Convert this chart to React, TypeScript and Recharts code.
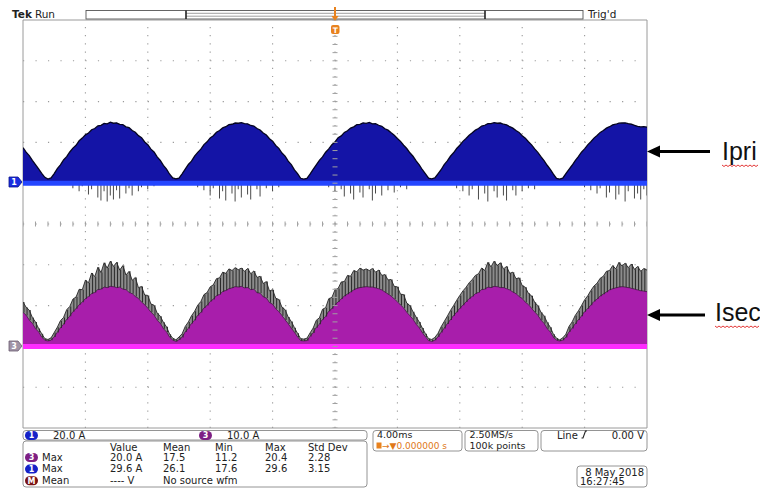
import React from "react";
import {
  ComposedChart,
  Area,
  Bar,
  Scatter,
  XAxis,
  YAxis,
  ReferenceLine,
  ReferenceArea,
} from "recharts";

// sampling of the screen capture: 201 points, 0.2 ms apart, -20 ms .. +20 ms
const T0 = -20;
const STEP_MS = 0.2;

// channel 1 (Ipri) 20 A/div, ground marker 1 div above centre
const CH1_POS = 1;
const CH1_SCALE = 20;
// channel 3 (Isec) 10 A/div, ground marker 3 div below centre
const CH3_POS = -3;
const CH3_SCALE = 10;

// envelope of channel 1, amps
const ch1Amps = [
  17.4, 15.2, 13.5, 11.2, 9.1, 7.0, 4.8, 2.9,
  2.0, 2.6, 4.7, 7.1, 9.0, 11.4, 13.0, 15.3, 17.2, 18.6, 20.8, 22.1, 23.7, 24.6, 26.2, 26.8, 28.1, 28.4, 29.3, 29.1, 29.9,
  29.4, 29.6, 28.8, 28.7, 27.6, 27.2, 25.8, 25.0, 23.3, 22.3, 20.2, 18.9, 16.7, 15.3, 12.9, 11.2, 8.7, 6.9, 4.4, 2.6,
  2.1, 2.5, 4.6, 6.9, 9.2, 10.8, 13.3, 15.1, 16.7, 18.9, 20.3, 22.2, 23.3, 25.0, 25.8, 27.1, 27.7, 28.7, 28.9, 29.5, 29.4,
  29.7, 29.2, 29.1, 28.3, 28.0, 26.8, 26.1, 24.6, 23.6, 21.8, 20.6, 18.5, 17.1, 14.8, 13.3, 10.8, 9.1, 6.5, 4.7, 2.4,
  2.0, 2.4, 4.4, 6.8, 9.0, 11.2, 12.9, 15.2, 16.8, 18.9, 20.2, 22.3, 23.2, 24.9, 25.7, 27.0, 27.6, 28.7, 28.8, 29.6, 29.3,
  29.8, 29.1, 29.2, 28.4, 27.9, 26.7, 26.0, 24.7, 23.5, 21.9, 20.5, 18.6, 17.0, 14.9, 13.2, 10.9, 9.0, 6.6, 4.6, 2.5,
  2.1, 2.6, 4.6, 6.6, 9.1, 10.9, 13.2, 14.9, 17.0, 18.6, 20.5, 21.9, 23.5, 24.7, 26.0, 26.8, 28.0, 28.4, 29.2, 29.2, 29.7,
  29.4, 29.5, 28.9, 28.6, 27.7, 27.0, 25.8, 24.9, 23.3, 22.1, 20.3, 18.8, 16.8, 15.1, 13.0, 11.1, 8.8, 6.8, 4.4, 2.4,
  2.0, 2.5, 4.7, 6.8, 8.8, 11.1, 13.0, 15.2, 16.8, 18.8, 20.3, 22.1, 23.4, 24.9, 25.8, 27.0, 27.7, 28.6, 28.9, 29.4, 29.5,
  29.6, 29.2, 28.9, 28.4, 27.9, 27.6, 27.7, 27.5,
];

// negative glitches below the channel 1 ground: [sample, amps]
const ch1Spikes: [number, number][] = [
  [16, -2.5], [18, -4], [19, -1.5], [21, -5.5], [22, -3], [24, -7], [25, -8.5], [26, -4], [27, -9], [28, -6],
  [29, -8], [30, -3.5], [31, -7.5], [33, -5], [34, -2.5], [35, -6], [37, -4], [38, -2], [40, -3], [42, -1.5],
  [56, -2], [58, -3.5], [60, -6], [61, -2.5], [63, -7.5], [64, -4], [65, -8.5], [67, -5], [68, -9], [69, -3],
  [70, -7], [72, -5.5], [73, -8], [75, -3], [76, -6.5], [78, -2.5], [80, -4], [82, -2],
  [98, -2], [100, -4], [102, -3], [103, -6.5], [105, -5], [106, -8], [108, -4.5], [109, -7], [111, -3], [112, -8.5],
  [113, -5], [115, -6], [117, -3.5], [119, -4.5], [121, -2], [123, -3],
  [139, -2.5], [141, -4], [143, -6], [144, -3], [146, -8], [148, -5], [149, -9], [151, -4], [152, -7], [154, -6],
  [155, -8.5], [157, -3.5], [158, -6], [160, -4], [162, -2.5], [164, -3],
  [180, -2], [182, -3.5], [184, -5], [185, -2.5], [187, -7], [188, -4.5], [190, -8], [191, -5.5], [193, -9], [194, -4],
  [196, -7.5], [197, -5], [198, -8], [199, -3], [200, -6],
];

// dense part of channel 3, amps
const ch3Amps = [
  8.3, 7.6, 6.4, 5.6, 4.3, 3.5, 2.2, 1.5,
  1.3, 1.5, 2.3, 3.4, 4.5, 5.4, 6.6, 7.4, 8.5, 9.2, 10.2, 10.8, 11.7, 12.2, 12.9, 13.2, 13.9, 14.0, 14.5, 14.4, 14.7,
  14.6, 14.4, 14.5, 14.0, 13.9, 13.2, 12.9, 12.2, 11.7, 10.8, 10.2, 9.3, 8.4, 7.6, 6.4, 5.6, 4.3, 3.5, 2.2, 1.5,
  1.2, 1.6, 2.2, 3.5, 4.4, 5.6, 6.4, 7.6, 8.3, 9.4, 10.0, 11.0, 11.5, 12.4, 12.7, 13.4, 13.7, 14.1, 14.3, 14.6, 14.5,
  14.7, 14.3, 14.4, 13.9, 14.0, 13.1, 13.0, 12.1, 11.8, 10.7, 10.3, 9.2, 8.5, 7.5, 6.5, 5.5, 4.4, 3.4, 2.3, 1.4,
  1.3, 1.4, 2.4, 3.3, 4.6, 5.4, 6.6, 7.3, 8.6, 9.2, 10.2, 10.9, 11.6, 12.3, 12.8, 13.3, 13.8, 14.2, 14.4, 14.5, 14.6,
  14.5, 14.5, 14.3, 14.1, 13.8, 13.3, 12.8, 12.3, 11.6, 10.9, 10.1, 9.4, 8.3, 7.5, 6.6, 5.4, 4.5, 3.3, 2.3, 1.4,
  1.2, 1.5, 2.3, 3.4, 4.4, 5.5, 6.5, 7.5, 8.4, 9.3, 10.1, 10.9, 11.7, 12.2, 12.9, 13.2, 13.9, 14.0, 14.5, 14.4, 14.7,
  14.6, 14.4, 14.4, 14.1, 13.8, 13.3, 12.9, 12.2, 11.7, 10.8, 10.2, 9.3, 8.4, 7.6, 6.4, 5.6, 4.3, 3.5, 2.2, 1.5,
  1.3, 1.5, 2.2, 3.5, 4.4, 5.5, 6.5, 7.4, 8.5, 9.2, 10.1, 11.0, 11.6, 12.3, 12.8, 13.3, 13.8, 14.1, 14.3, 14.5, 14.6,
  14.5, 14.4, 14.2, 14.0, 13.8, 13.6, 13.5, 13.4,
];

// top of the ringing above channel 3, amps
const ch3NoiseTop = [
  10.9, 9.6, 8.9, 7.1, 6.0, 4.4, 3.1, 1.9,
  1.7, 2.1, 3.4, 4.7, 6.3, 7.1, 9.0, 9.8, 11.6, 12.1, 14.0, 13.9, 16.2, 15.6, 18.0, 17.1, 19.4, 18.1, 20.5, 19.2, 20.9,
  19.6, 20.6, 18.7, 19.8, 17.5, 18.4, 16.2, 16.9, 14.4, 14.7, 12.6, 12.5, 10.4, 10.1, 8.2, 7.4, 5.9, 4.8, 3.0, 2.0,
  1.6, 2.3, 3.1, 4.9, 6.0, 7.5, 8.6, 10.1, 11.0, 12.7, 13.2, 14.6, 15.1, 16.6, 16.8, 18.2, 17.9, 19.0, 18.6, 19.3, 18.8,
  19.2, 18.4, 19.1, 17.8, 18.5, 16.9, 17.2, 15.4, 15.9, 13.6, 13.9, 11.8, 11.5, 9.6, 9.0, 7.2, 6.1, 4.6, 3.2, 1.9,
  1.8, 2.0, 3.3, 4.5, 6.4, 7.0, 9.1, 9.5, 11.7, 12.0, 13.9, 14.2, 15.8, 15.9, 17.4, 17.2, 18.6, 18.3, 19.2, 18.7, 19.0,
  18.6, 19.1, 18.2, 18.7, 17.4, 17.6, 16.3, 16.4, 14.7, 14.6, 12.8, 12.7, 10.6, 10.0, 8.5, 7.2, 6.0, 4.5, 3.1, 1.9,
  1.7, 2.2, 3.2, 4.8, 6.1, 7.4, 8.8, 10.0, 11.3, 12.5, 13.6, 14.5, 15.6, 16.4, 17.4, 17.8, 19.2, 18.6, 20.6, 19.5, 20.9,
  19.8, 20.5, 19.0, 19.6, 17.9, 18.2, 16.6, 16.8, 14.9, 14.5, 13.0, 12.4, 10.8, 10.0, 8.4, 7.5, 5.9, 4.7, 3.0, 2.0,
  1.6, 2.1, 3.0, 4.9, 6.0, 7.6, 8.7, 10.0, 11.4, 12.4, 13.7, 14.8, 15.5, 16.7, 17.2, 18.4, 18.6, 19.8, 19.0, 20.6, 19.7,
  20.4, 19.3, 20.2, 18.9, 19.6, 18.4, 19.1, 18.7,
];

// graticule
const majorTimeTicks = [-16, -12, -8, -4, 0, 4, 8, 12, 16];
const majorDivTicks = [-4, -3, -2, -1, 0, 1, 2, 3, 4];
const minorTimeTicks = Array.from({ length: 51 }, (_, i) => Math.round((-20 + i * 0.8) * 100) / 100);
const minorDivTicks = Array.from({ length: 51 }, (_, i) => Math.round((-5 + i * 0.2) * 100) / 100);

// readouts
const measHeader = ["Value", "Mean", "Min", "Max", "Std Dev"];
const measRows = [
  { ch: "3", color: "#7d1f84", name: "Max", cells: ["20.0 A", "17.5", "11.2", "20.4", "2.28"] },
  { ch: "1", color: "#1622c8", name: "Max", cells: ["29.6 A", "26.1", "17.6", "29.6", "3.15"] },
  { ch: "M", color: "#7a1414", name: "Mean", cells: ["---- V", "No source wfm"] },
];
const measCols = [110, 163, 215, 265, 308];

const spikeAt = new Map(ch1Spikes);

const rows = ch1Amps.map((a, i) => {
  const s = spikeAt.get(i);
  const m3 = CH3_POS + ch3Amps[i] / CH3_SCALE;
  return {
    t: Math.round((T0 + i * STEP_MS) * 100) / 100,
    ch1: [CH1_POS, CH1_POS + a / CH1_SCALE],
    ch1Neg: s === undefined ? null : [CH1_POS + s / CH1_SCALE, CH1_POS],
    ch3: [CH3_POS, m3],
    ch3Noise: [m3, CH3_POS + ch3NoiseTop[i] / CH3_SCALE],
  };
});

const hCentreTicks = minorTimeTicks.map((t) => ({ t, v: 0 }));
const vCentreTicks = minorDivTicks.map((v) => ({ t: 0, v }));

const GRID = "#9a9a9a";
const FONT = "DejaVu Sans";

function Badge({ x, y, label, fill }: { x: number; y: number; label: string; fill: string }) {
  return (
    <g>
      <rect x={x} y={y - 8} width={13} height={9} rx={4.5} fill={fill} />
      <text x={x + 6.5} y={y - 0.6} fontSize={8} fontWeight="bold" fill="#fff" textAnchor="middle">
        {label}
      </text>
    </g>
  );
}

function ChannelMarker({ y, label, fill, stroke }: { y: number; label: string; fill: string; stroke: string }) {
  const x = 9;
  return (
    <g>
      <polygon
        points={`${x},${y - 5} ${x + 9},${y - 5} ${x + 13},${y} ${x + 9},${y + 5} ${x},${y + 5}`}
        fill={fill}
        stroke={stroke}
        strokeWidth={0.8}
      />
      <text x={x + 5} y={y + 3} fontSize={8} fontWeight="bold" fill="#fff" textAnchor="middle">
        {label}
      </text>
    </g>
  );
}

function Squiggle({ x, y, w }: { x: number; y: number; w: number }) {
  let d = `M${x},${y}`;
  for (let px = x; px < x + w; px += 4) d += ` l2,1.5 l2,-1.5`;
  return <path d={d} fill="none" stroke="#e02020" strokeWidth={0.9} />;
}

export default function App() {
  return (
    <div style={{ position: "absolute", left: 0, top: 0, width: 760, height: 489, background: "#fff" }}>
      <ComposedChart width={760} height={489} data={rows} margin={{ top: 20, right: 113, bottom: 61, left: 23 }}>
        <XAxis dataKey="t" type="number" domain={[-20, 20]} ticks={majorTimeTicks} tick={false} tickLine={false} axisLine={false} height={0} allowDataOverflow />
        <YAxis type="number" domain={[-5, 5]} ticks={majorDivTicks} tick={false} tickLine={false} axisLine={false} width={0} allowDataOverflow />
        <XAxis xAxisId="top" orientation="top" mirror type="number" domain={[-20, 20]} ticks={minorTimeTicks} tick={false} tickSize={4} tickLine={{ stroke: "#999" }} axisLine={false} height={0} allowDataOverflow />
        <XAxis xAxisId="bottom" orientation="bottom" mirror type="number" domain={[-20, 20]} ticks={minorTimeTicks} tick={false} tickSize={4} tickLine={{ stroke: "#999" }} axisLine={false} height={0} allowDataOverflow />
        <YAxis yAxisId="left" orientation="left" mirror type="number" domain={[-5, 5]} ticks={minorDivTicks} tick={false} tickSize={4} tickLine={{ stroke: "#999" }} axisLine={false} width={0} allowDataOverflow />
        <YAxis yAxisId="right" orientation="right" mirror type="number" domain={[-5, 5]} ticks={minorDivTicks} tick={false} tickSize={4} tickLine={{ stroke: "#999" }} axisLine={false} width={0} allowDataOverflow />

        {/* dotted graticule */}
        {majorDivTicks.map((v) => (
          <ReferenceLine key={`h${v}`} y={v} stroke={GRID} strokeWidth={1.1} strokeDasharray="1.2 11.28" zIndex={-100} />
        ))}
        {majorTimeTicks.map((t) => (
          <ReferenceLine key={`v${t}`} x={t} stroke={GRID} strokeWidth={1.1} strokeDasharray="1.2 6.96" zIndex={-100} />
        ))}
        <ReferenceArea x1={-20} x2={20} y1={-5} y2={5} fill="none" stroke="#9a9a9a" strokeWidth={1} />

        <Scatter data={hCentreTicks} dataKey="v" isAnimationActive={false}
          shape={(p: any) => <line x1={p.cx} x2={p.cx} y1={p.cy - 2.5} y2={p.cy + 2.5} stroke="#a0a0a0" />} />
        <Scatter data={vCentreTicks} dataKey="v" isAnimationActive={false}
          shape={(p: any) => <line x1={p.cx - 2.5} x2={p.cx + 2.5} y1={p.cy} y2={p.cy} stroke="#a0a0a0" />} />

        <Bar dataKey="ch1Neg" fill="#4a4a4a" barSize={1} isAnimationActive={false} />
        <Area dataKey="ch1" type="linear" stroke="#050520" strokeWidth={1.3} fill="#1414a6" fillOpacity={1} isAnimationActive={false} />

        <Area dataKey="ch3Noise" type="linear" stroke="#111" strokeWidth={0.8} fill="#8c8c8c" fillOpacity={1} isAnimationActive={false} />
        <Bar dataKey="ch3Noise" fill="#2a2a2a" barSize={1} isAnimationActive={false} />
        <Area dataKey="ch3" type="linear" stroke="#5a105a" strokeWidth={0.6} fill="#a81eab" fillOpacity={1} isAnimationActive={false} />

        <ReferenceLine y={CH1_POS} stroke="#2446ff" strokeWidth={5} />
        <ReferenceLine y={CH3_POS} stroke="#ff2cff" strokeWidth={5} />
      </ComposedChart>

      <svg width={760} height={489} style={{ position: "absolute", left: 0, top: 0 }} fontFamily={FONT}>
        {/* status line */}
        <text x={12} y={18} fontSize={10.5} fill="#222">
          <tspan fontWeight="bold">Tek</tspan>
          <tspan dx={3}>Run</tspan>
        </text>
        <rect x={86} y={10.5} width={497} height={8.5} fill="#fff" stroke="#555" strokeWidth={0.9} />
        <line x1={186} x2={485} y1={13.3} y2={13.3} stroke="#888" strokeWidth={0.8} />
        <line x1={186} x2={485} y1={16.2} y2={16.2} stroke="#888" strokeWidth={0.8} />
        <line x1={186} x2={186} y1={10.5} y2={19} stroke="#222" strokeWidth={1.6} />
        <line x1={485} x2={485} y1={10.5} y2={19} stroke="#222" strokeWidth={1.6} />
        <text x={588} y={18} fontSize={10.5} fill="#222">Trig'd</text>

        {/* trigger position */}
        <line x1={335} x2={335} y1={7} y2={17} stroke="#e8821e" strokeWidth={2} />
        <polygon points="331.5,16 338.5,16 335,21" fill="#e8821e" />
        <rect x={331} y={25} width={8.5} height={9} rx={2} fill="#e8821e" />
        <text x={335.2} y={32.5} fontSize={7.5} fontWeight="bold" fill="#fff" textAnchor="middle">T</text>

        {/* channel ground markers */}
        <ChannelMarker y={182} label="1" fill="#1a2ee0" stroke="#0a1288" />
        <ChannelMarker y={346} label="3" fill="#a093a6" stroke="#6a5a70" />

        {/* annotations */}
        <line x1={710} x2={656} y1={151.5} y2={151.5} stroke="#000" strokeWidth={2.8} />
        <polygon points="647,151.5 660,145.5 660,157.5" fill="#000" />
        <text x={722} y={160} fontSize={25} fontFamily="Liberation Sans" fill="#111">Ipri</text>
        <Squiggle x={722} y={165} w={34} />
        <line x1={705} x2={656} y1={315} y2={315} stroke="#000" strokeWidth={2.8} />
        <polygon points="647,315 660,309 660,321" fill="#000" />
        <text x={715} y={321} fontSize={25} fontFamily="Liberation Sans" fill="#111">Isec</text>
        <Squiggle x={715} y={326} w={44} />

        {/* vertical scale box */}
        <rect x={23} y={430.5} width={344} height={9.5} rx={3} fill="#fff" stroke="#888" strokeWidth={0.9} />
        <Badge x={25} y={439} label="1" fill="#1622c8" />
        <text x={53} y={438.5} fontSize={10} fill="#222">20.0 A</text>
        <Badge x={199} y={439} label="3" fill="#7d1f84" />
        <text x={227} y={438.5} fontSize={10} fill="#222">10.0 A</text>

        {/* measurements */}
        <rect x={23} y={441} width={344} height={46} rx={3} fill="#fff" stroke="#888" strokeWidth={0.9} />
        {measHeader.map((h, i) => (
          <text key={h} x={measCols[i]} y={450.5} fontSize={10} fill="#222">{h}</text>
        ))}
        {measRows.map((r, j) => (
          <g key={j}>
            <Badge x={25} y={461 + j * 11.6} label={r.ch} fill={r.color} />
            <text x={42} y={460.8 + j * 11.6} fontSize={10} fill="#222">{r.name}</text>
            {r.cells.map((c, i) => (
              <text key={i} x={measCols[i]} y={460.8 + j * 11.6} fontSize={10} fill="#222">{c}</text>
            ))}
          </g>
        ))}

        {/* horizontal */}
        <rect x={373} y={430.5} width={89} height={20.5} rx={3} fill="#fff" stroke="#888" strokeWidth={0.9} />
        <text x={377} y={438} fontSize={9.5} fill="#222">4.00ms</text>
        <rect x={376.5} y={442.5} width={5} height={6} fill="#e8821e" />
        <text x={382} y={448.8} fontSize={9} fill="#e07818">→▼0.000000 s</text>

        <rect x={465} y={430.5} width={73} height={20.5} rx={3} fill="#fff" stroke="#888" strokeWidth={0.9} />
        <text x={469.5} y={438} fontSize={9.5} fill="#222">2.50MS/s</text>
        <text x={469.5} y={448.5} fontSize={9.5} fill="#222">100k points</text>

        {/* trigger */}
        <rect x={541} y={430.5} width={106} height={20.5} rx={3} fill="#fff" stroke="#888" strokeWidth={0.9} />
        <text x={557} y={438.5} fontSize={10} fill="#222">Line</text>
        <path d="M581.5,438 h1.5 l2.5,-7 h1.5" fill="none" stroke="#222" strokeWidth={1.1} />
        <text x={644} y={438.5} fontSize={10} fill="#222" textAnchor="end">0.00 V</text>

        {/* date */}
        <rect x={577} y={466} width={70} height={21} rx={3} fill="#fff" stroke="#888" strokeWidth={0.9} />
        <text x={644} y={475.5} fontSize={10} fill="#222" textAnchor="end">8 May 2018</text>
        <text x={580} y={485} fontSize={10} fill="#222">16:27:45</text>
      </svg>
    </div>
  );
}
